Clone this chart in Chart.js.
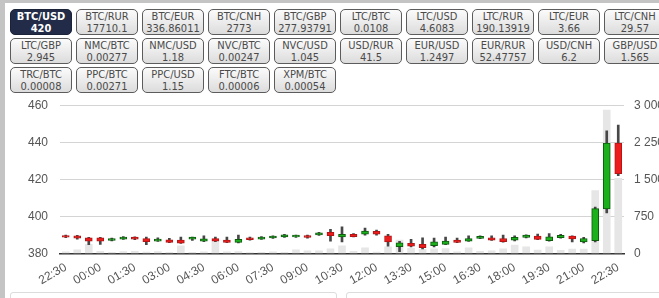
<!DOCTYPE html>
<html><head><meta charset="utf-8">
<script src="https://cdn.jsdelivr.net/npm/chart.js@4.4.1/dist/chart.umd.min.js"></script>
<style>
html,body{margin:0;padding:0;width:659px;height:298px;overflow:hidden;background:#fff;}
#edgeL{position:absolute;left:0;top:0;width:5px;height:298px;background:#c4c4c4;}
#edgeT{position:absolute;left:0;top:0;width:659px;height:3px;background:#c4c4c4;}
.btn{position:absolute;width:60px;height:23px;border:1px solid #5c5c5c;border-radius:5px;
 background:linear-gradient(#fbfbfb,#dcdcdc);font:11px "DejaVu Sans Condensed","Liberation Sans",sans-serif;
 color:#4a4a4a;text-align:center;line-height:11.5px;padding-top:1px;box-sizing:content-box;}
.btn.sel{background:#222c48;border-color:#1a2238;color:#fff;font-weight:bold;}
#wrap{position:absolute;left:5px;top:86px;}
.panel{position:absolute;top:292px;height:20px;border:1px solid #dcdcdc;border-radius:3px;background:#fff;}
</style></head>
<body>
<div id="edgeT"></div><div id="edgeL"></div>
<div id="buttons"></div>
<div id="wrap"><canvas id="c" width="675" height="204"></canvas></div>
<div class="panel" style="left:10px;width:325px"></div>
<div class="panel" style="left:346px;width:330px"></div>
<script>
// ---- data ----
const pairs = ["BTC/USD","BTC/RUR","BTC/EUR","BTC/CNH","BTC/GBP","LTC/BTC","LTC/USD","LTC/RUR","LTC/EUR","LTC/CNH",
 "LTC/GBP","NMC/BTC","NMC/USD","NVC/BTC","NVC/USD","USD/RUR","EUR/USD","EUR/RUR","USD/CNH","GBP/USD",
 "TRC/BTC","PPC/BTC","PPC/USD","FTC/BTC","XPM/BTC"];
const rates = ["420","17710.1","336.86011","2773","277.93791","0.0108","4.6083","190.13919","3.66","29.57",
 "2.945","0.00277","1.18","0.00247","1.045","41.5","1.2497","52.47757","6.2","1.565",
 "0.00008","0.00271","1.15","0.00006","0.00054"];

const times = ["22:30","23:00","23:30","00:00","00:30","01:00","01:30","02:00","02:30","03:00","03:30","04:00",
 "04:30","05:00","05:30","06:00","06:30","07:00","07:30","08:00","08:30","09:00","09:30","10:00",
 "10:30","11:00","11:30","12:00","12:30","13:00","13:30","14:00","14:30","15:00","15:30","16:00",
 "16:30","17:00","17:30","18:00","18:30","19:00","19:30","20:00","20:30","21:00","21:30","22:00","22:30"];
const openP  = [389.6,389.4,388.3,388.3,386.9,387.7,388.7,387.9,386.6,387.3,387.1,387.6,386.5,388.0,387.2,385.9,388.4,387.7,388.3,388.8,388.8,389.6,389.9,391.3,388.9,390.3,390.3,391.9,389.5,383.6,385.4,384.8,384.1,384.8,387.1,386.6,388.1,388.4,388.0,387.1,388.6,389.3,386.8,388.4,389.3,386.2,386.8,404.0,439.6];
const highP  = [389.9,389.7,388.6,388.6,388.2,389.0,388.9,388.8,388.3,388.1,388.7,388.7,389.5,388.8,388.7,389.8,388.7,389.0,389.4,390.2,389.9,389.9,391.3,393.0,394.3,390.6,393.6,392.6,390.3,386.4,387.6,388.3,388.2,388.8,388.2,389.4,389.5,389.4,389.8,389.4,390.0,390.4,390.7,390.2,389.5,388.6,404.9,446.1,449.3];
const lowP   = [388.4,387.7,384.7,384.8,386.7,387.5,387.4,384.7,386.4,385.7,385.3,386.9,386.3,386.3,385.7,385.6,387.1,387.5,388.1,388.6,388.6,388.2,389.7,386.6,386.2,388.8,389.8,389.8,383.8,380.9,383.5,382.3,383.5,384.6,385.7,386.4,387.9,386.9,386.0,386.7,388.3,387.3,386.6,388.2,386.2,385.6,386.2,401.8,422.0];
const closeP = [388.7,388.2,386.6,386.6,388.0,388.8,387.6,386.3,387.7,385.9,385.5,388.7,387.8,386.6,385.9,387.5,387.3,388.8,389.3,390.0,389.8,388.6,391.0,389.5,390.3,389.0,392.0,390.3,386.1,385.7,383.9,383.1,386.2,386.6,385.9,388.0,389.2,387.1,386.3,388.6,389.8,387.5,388.9,389.7,387.8,388.0,404.1,439.6,423.0];
const volume = [30,70,180,40,20,35,40,25,35,20,150,20,30,230,30,35,15,20,30,20,70,50,50,90,150,40,113,25,130,270,100,80,90,95,30,113,40,50,90,165,133,66,133,60,86,86,1270,2900,1520];
const priceTicks = [380,400,420,440,460];
const volumeTicks = [0,750,1500,2250,3000];

// ---- buttons ----
const bWrap = document.getElementById('buttons');
pairs.forEach((p,i)=>{
  const d=document.createElement('div');
  d.className='btn'+(i===0?' sel':'');
  d.style.left=(10+66*(i%10))+'px';
  d.style.top=(9+29*Math.floor(i/10))+'px';
  d.innerHTML=p+'<br>'+rates[i];
  bWrap.appendChild(d);
});

// ---- chart ----
const up = times.map((t,i)=>closeP[i]>=openP[i]);
const fmtSpace = v => String(v).replace(/\B(?=(\d{3})+(?!\d))/g,' ');
new Chart(document.getElementById('c'),{
  type:'bar',
  data:{labels:times,datasets:[
    {label:'body',data:times.map((t,i)=>[openP[i],closeP[i]]),yAxisID:'y',order:1,grouped:false,
     barThickness:7,borderWidth:1,borderSkipped:false,
     backgroundColor:up.map(u=>u?'#1cb01c':'#ec1c1c'),
     borderColor:up.map(u=>u?'#0c5c0c':'#b41414')},
    {label:'wick',data:times.map((t,i)=>[lowP[i],highP[i]]),yAxisID:'y',order:2,grouped:false,
     barThickness:2,backgroundColor:'#474747',borderWidth:0},
    {label:'volume',data:volume,yAxisID:'y1',order:3,grouped:false,
     barThickness:7,backgroundColor:'#e6e6e6',borderWidth:0}
  ]},
  options:{
    responsive:false,animation:false,
    layout:{padding:0},
    plugins:{legend:{display:false},tooltip:{enabled:false}},
    scales:{
      x:{type:'category',offset:true,
         grid:{display:false,drawTicks:false},
         border:{display:true,color:'#333',width:1.5},
         ticks:{autoSkip:false,minRotation:30,maxRotation:30,padding:7,color:'#555',
           font:{family:'"Liberation Sans", Arial, sans-serif',size:12},
           callback:(v,i)=> i%3===0 ? times[i] : ''},
         afterFit:s=>{s.height=36.7;}},
      y:{position:'left',min:380,max:460,
         afterBuildTicks:s=>{s.ticks=priceTicks.map(v=>({value:v}));},
         grid:{color:'#d4d4d4',drawTicks:false},
         border:{display:false},
         ticks:{padding:12,color:'#555',font:{family:'"Liberation Sans", Arial, sans-serif',size:12}},
         afterFit:s=>{s.width=55;}},
      y1:{position:'right',min:0,max:3000,
         afterBuildTicks:s=>{s.ticks=volumeTicks.map(v=>({value:v}));},
         grid:{display:false,drawTicks:false},
         border:{display:false},
         ticks:{padding:10,color:'#555',font:{family:'"Liberation Sans", Arial, sans-serif',size:12},
           callback:v=>fmtSpace(v)},
         afterFit:s=>{s.width=56;}}
    }
  }
});
</script>
</body></html>
